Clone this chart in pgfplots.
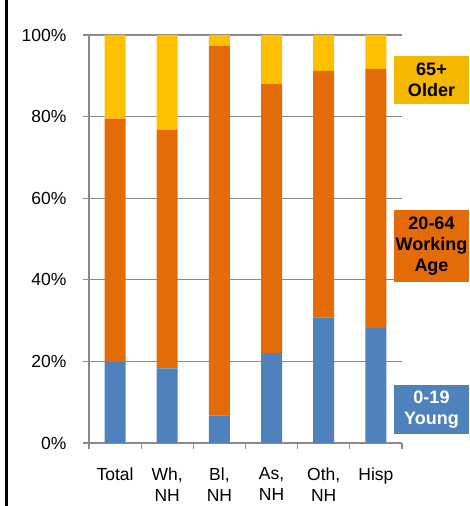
\documentclass[border=0pt]{standalone}
\usepackage{pgfplots}
\pgfplotsset{compat=1.18}
\usepackage{fontspec}
\setmainfont{Liberation Sans}
\definecolor{cblue}{HTML}{4F81BD}
\definecolor{corange}{HTML}{E36C09}
\definecolor{cyellow}{HTML}{FFC000}
\definecolor{cbox}{HTML}{F5B800}
\definecolor{cgrid}{HTML}{8A8A8A}
\begin{document}
\begin{tikzpicture}
\useasboundingbox (-89pt,-63pt) rectangle (380pt,443pt);
\begin{axis}[
  at={(0,0)}, anchor=south west,
  scale only axis, width=313pt, height=408pt,
  xmin=0, xmax=6, ymin=0, ymax=100,
  ybar stacked, bar width=21pt,
  axis x line*=bottom, axis y line*=left,
  axis line style={cgrid, line width=1.3pt},
  xtick={0,1,...,6},
  x tick label as interval,
  xticklabels={Total,{Wh,\\NH},{Bl,\\NH},{As,\\NH},{Oth,\\NH},Hisp},
  xticklabel style={align=center, font=\fontsize{17.5}{21}\selectfont, yshift=-15pt},
  ytick={0,20,...,100},
  yticklabel={\pgfmathprintnumber{\tick}\%},
  yticklabel style={font=\fontsize{17.5}{20}\selectfont, xshift=-13pt},
  /pgf/number format/assume math mode=true,
  tick align=outside, major tick length=6pt,
  tick style={cgrid, line width=1.3pt},
  ymajorgrids, grid style={cgrid, line width=1.3pt},
  clip=false,
]
\addplot[fill=cblue, draw=none] coordinates {(0.5,19.9) (1.5,18.3) (2.5,6.8) (3.5,22.0) (4.5,30.8) (5.5,28.2)};
\addplot[fill=corange, draw=none] coordinates {(0.5,59.6) (1.5,58.5) (2.5,90.6) (3.5,66.1) (4.5,60.4) (5.5,63.5)};
\addplot[fill=cyellow, draw=none] coordinates {(0.5,20.5) (1.5,23.2) (2.5,2.6) (3.5,11.9) (4.5,8.8) (5.5,8.3)};
\end{axis}
\draw[line width=3pt, black] (-82.5pt,-63pt) -- (-82.5pt,443pt);
\node[fill=cbox, minimum width=75pt, minimum height=48pt, inner sep=0pt, align=center, font=\bfseries\fontsize{18}{21}\selectfont, text=black] at (342.5pt,363pt) {65+\\Older};
\node[fill=corange, minimum width=75pt, minimum height=72pt, inner sep=0pt, align=center, font=\bfseries\fontsize{18}{21}\selectfont, text=black] at (342.5pt,197pt) {20-64\\Working\\Age};
\node[fill=cblue, minimum width=75pt, minimum height=49pt, inner sep=0pt, align=center, font=\bfseries\fontsize{18}{21}\selectfont, text=white] at (342.5pt,33.5pt) {0-19\\Young};
\end{tikzpicture}
\end{document}
